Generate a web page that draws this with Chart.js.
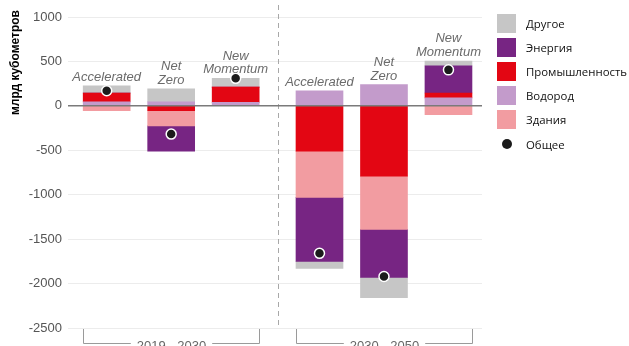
<!DOCTYPE html>
<html>
<head>
<meta charset="utf-8">
<script src="https://cdn.jsdelivr.net/npm/chart.js@4.4.0/dist/chart.umd.min.js"></script>
<style>
  html, body { margin: 0; padding: 0; background: #fff; }
  #wrap { position: relative; width: 629px; height: 346px; }
  #legend { position: absolute; left: 497px; top: 11px; font-family: 'Open Sans', sans-serif; font-size: 11.4px; color: #111; }
  .item { display: flex; align-items: center; height: 24.2px; white-space: nowrap; }
  .sw { width: 19px; height: 19px; margin-right: 10px; flex: none; }
  .dot { width: 10px; height: 10px; border-radius: 50%; margin: 0 14px 0 5px; flex: none; }
</style>
</head>
<body>
<div id="wrap">
  <canvas id="chart" width="629" height="346"></canvas>
  <div id="legend"></div>
</div>
<script>
// scenarios (bars) and where they sit on the x axis
const scenarios = ['Accelerated', 'Net Zero', 'New Momentum', 'Accelerated', 'Net Zero', 'New Momentum'];
const xPos = [0.6, 1.6, 2.6, 3.9, 4.9, 5.9];
const periods = ['2019 - 2030', '2030 - 2050'];
const periodBars = [[0, 1, 2], [3, 4, 5]];
const yTicks = [-2500, -2000, -1500, -1000, -500, 0, 500, 1000];

// bln m3 per sector
const hydrogen = [45, 45, 40, 170, 240, 90];
const industry = [100, -55, 170, -510, -790, 55];
const buildings = [-55, -170, 0, -520, -600, -100];
const energy = [0, -285, 0, -720, -540, 305];
const other = [80, 147, 100, -80, -230, 55];
const total = [170, -318, 310, -1660, -1920, 405];

const BAR_W = 47;

function pts(arr) {
  return arr.map((v, i) => ({ x: xPos[i], y: v }));
}

function bar(label, arr, color) {
  return { label, data: pts(arr), backgroundColor: color, barThickness: BAR_W, borderWidth: 0, stack: 'a', order: 1 };
}

// stacking order: hydrogen at the bottom of positives, industry first below zero
const datasets = [
  bar('Водород', hydrogen, '#c39bcb'),
  bar('Промышленность', industry, '#e30613'),
  bar('Здания', buildings, '#f29ca1'),
  bar('Энергия', energy, '#772583'),
  bar('Другое', other, '#c6c6c6'),
  {
    type: 'line', label: 'Общее', data: pts(total), showLine: false, stack: 'tot', order: 0,
    pointRadius: 5, pointHoverRadius: 5, pointBackgroundColor: '#1b1b1b',
    pointBorderColor: '#ffffff', pointBorderWidth: 1.5
  }
];
const legendOrder = ['Другое', 'Энергия', 'Промышленность', 'Водород', 'Здания', 'Общее'];

const extras = {
  id: 'extras',
  beforeDatasetsDraw(chart) {
    const { ctx, chartArea, scales: { x } } = chart;
    // dashed divider between periods
    const xd = Math.round(x.getPixelForValue((xPos[2] + xPos[3]) / 2)) + 0.5;
    ctx.save();
    ctx.strokeStyle = '#a8a8a8';
    ctx.lineWidth = 1;
    ctx.setLineDash([5, 4]);
    ctx.beginPath();
    ctx.moveTo(xd, 5);
    ctx.lineTo(xd, chartArea.bottom - 2);
    ctx.stroke();
    ctx.restore();
  },
  afterDatasetsDraw(chart) {
    const { ctx, chartArea, scales: { x, y } } = chart;
    ctx.save();

    // zero line over the bars
    const y0 = y.getPixelForValue(0);
    ctx.strokeStyle = '#7a7a7a';
    ctx.lineWidth = 1.5;
    ctx.beginPath();
    ctx.moveTo(chartArea.left, y0);
    ctx.lineTo(chartArea.right, y0);
    ctx.stroke();

    // scenario names above each bar
    ctx.fillStyle = '#6b6b6b';
    ctx.font = 'italic 13px "Liberation Sans"';
    ctx.textAlign = 'center';
    ctx.textBaseline = 'alphabetic';
    scenarios.forEach((name, i) => {
      const posSum = [hydrogen, industry, buildings, energy, other]
        .reduce((s, arr) => s + Math.max(arr[i], 0), 0);
      const top = y.getPixelForValue(posSum);
      const lines = name === 'Accelerated' ? [name] : name.split(' ');
      const cx = x.getPixelForValue(xPos[i]);
      lines.slice().reverse().forEach((ln, k) => {
        ctx.fillText(ln, cx, top - 5 - k * 13.5);
      });
    });

    // period brackets at the bottom
    ctx.strokeStyle = '#9a9a9a';
    ctx.lineWidth = 1;
    ctx.font = '13px "Liberation Sans"';
    ctx.textBaseline = 'middle';
    const by = 343.5;
    periods.forEach((p, k) => {
      const idx = periodBars[k];
      const l = Math.round(x.getPixelForValue(xPos[idx[0]]) - BAR_W / 2) + 0.5;
      const r = Math.round(x.getPixelForValue(xPos[idx[idx.length - 1]]) + BAR_W / 2) + 0.5;
      const cx = (l + r) / 2;
      const half = ctx.measureText(p).width / 2 + 6;
      ctx.beginPath();
      ctx.moveTo(l, chartArea.bottom + 1);
      ctx.lineTo(l, by);
      ctx.lineTo(cx - half, by);
      ctx.moveTo(cx + half, by);
      ctx.lineTo(r, by);
      ctx.lineTo(r, chartArea.bottom + 1);
      ctx.stroke();
      ctx.fillStyle = '#666';
      ctx.fillText(p, cx, by + 2.5);
    });

    // y axis title, top aligned
    ctx.fillStyle = '#000';
    ctx.font = 'bold 12px "Liberation Sans"';
    ctx.translate(16, 10);
    ctx.rotate(-Math.PI / 2);
    ctx.textAlign = 'right';
    ctx.textBaseline = 'middle';
    ctx.fillText('млрд кубометров', 0, 0);

    ctx.restore();
  }
};

Chart.defaults.font.family = '"Liberation Sans", sans-serif';

const chart = new Chart(document.getElementById('chart'), {
  type: 'bar',
  data: { datasets },
  options: {
    responsive: false,
    animation: false,
    layout: { padding: { top: 17, right: 147, bottom: 18, left: 0 } },
    plugins: { legend: { display: false }, tooltip: { enabled: false } },
    scales: {
      x: { type: 'linear', min: 0, max: 6.42, stacked: true, offset: false, display: false },
      y: {
        stacked: true, min: yTicks[0], max: yTicks[yTicks.length - 1],
        afterBuildTicks(s) { s.ticks = yTicks.map(v => ({ value: v })); },
        afterFit(s) { s.width = 68; },
        ticks: { color: '#555', font: { size: 13 }, padding: 6, callback: v => String(v) },
        grid: { color: '#ececec', drawTicks: false },
        border: { display: false }
      }
    }
  },
  plugins: [extras]
});

// legend built from the datasets
const legend = document.getElementById('legend');
legendOrder.forEach(name => {
  const ds = datasets.find(d => d.label === name);
  const row = document.createElement('div');
  row.className = 'item';
  const mark = document.createElement('span');
  if (ds.type === 'line') {
    mark.className = 'dot';
    mark.style.background = ds.pointBackgroundColor;
  } else {
    mark.className = 'sw';
    mark.style.background = ds.backgroundColor;
  }
  row.appendChild(mark);
  row.appendChild(document.createTextNode(name));
  legend.appendChild(row);
});
</script>
</body>
</html>
